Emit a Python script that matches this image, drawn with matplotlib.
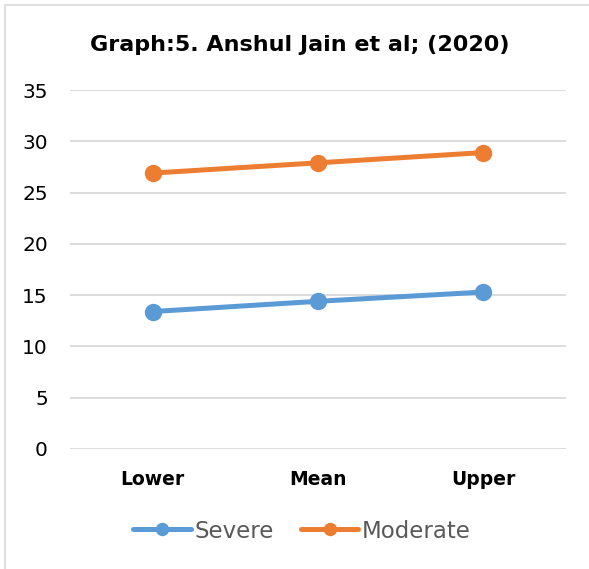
import matplotlib
matplotlib.use("Agg")
import matplotlib.pyplot as plt
from matplotlib.patches import Rectangle

categories = ["Lower", "Mean", "Upper"]
severe = [13.4, 14.4, 15.3]
moderate = [26.9, 27.9, 28.9]
yticks = [0, 5, 10, 15, 20, 25, 30, 35]

W, H = 589, 569
fig = plt.figure(figsize=(W / 100, H / 100), dpi=100)
plt.rcParams['font.family'] = ['DejaVu Sans']

# outer chart frame
fig.add_artist(Rectangle((5 / W, -0.01), 1.2, (H - 5) / H + 0.01,
                         transform=fig.transFigure, fill=False,
                         edgecolor="#d9d9d9", linewidth=1.2))

ax = fig.add_axes([70 / W, 1 - 449 / H, (566 - 70) / W, (449 - 90) / H])
x = list(range(len(categories)))
ax.plot(x, severe, color="#5b9bd5", linewidth=3.6, marker="o",
        markersize=11.5, label="Severe", solid_capstyle="round", zorder=3)
ax.plot(x, moderate, color="#ed7d31", linewidth=3.6, marker="o",
        markersize=11.5, label="Moderate", solid_capstyle="round", zorder=3)

ax.set_xlim(-0.5, len(categories) - 0.5)
ax.set_ylim(0, 35)
ax.set_yticks(yticks)
ax.set_yticklabels([str(v) for v in yticks], fontsize=14.5, color="#000000")
ax.set_xticks(x)
ax.set_xticklabels(categories, fontsize=13.5, fontweight="bold", color="#000000")
ax.tick_params(axis="both", length=0)
ax.tick_params(axis="y", pad=16)
ax.tick_params(axis="x", pad=15)
ax.grid(axis="y", color="#d9d9d9", linewidth=1.3)
ax.set_axisbelow(True)
for s in ax.spines.values():
    s.set_visible(False)

fig.text(300 / W, 1 - 45 / H, "Graph:5. Anshul Jain et al; (2020)",
         ha="center", va="center", fontsize=16, fontweight="bold")

leg = fig.legend(loc="center", bbox_to_anchor=(302 / W, 1 - 531 / H), ncol=2,
                 frameon=False, fontsize=16.5, handlelength=2.5,
                 columnspacing=1.2, handletextpad=0.15, markerscale=0.75)
for t in leg.get_texts():
    t.set_color("#595959")

fig.savefig("out.png", dpi=100)
